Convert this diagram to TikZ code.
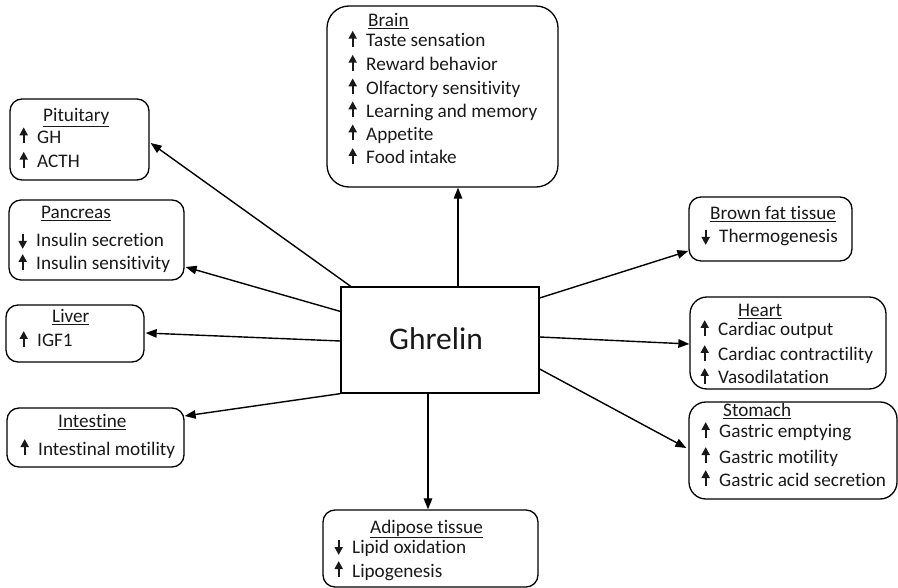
\documentclass[tikz,border=0pt]{standalone}
\usepackage{fontspec}
\setmainfont[Ligatures={NoCommon,NoContextual}]{Carlito}
\usetikzlibrary{arrows.meta,calc}
\newcommand\upar{\tikz[baseline=0pt,x=1pt,y=1pt]{\useasboundingbox (0,0) rectangle (7,14); \draw[line width=1.8pt] (3.5,0)--(3.5,9); \fill (-0.8,8)--(7.8,8)--(3.5,15.8)--cycle;}\hspace{10pt}}
\newcommand\dnar{\tikz[baseline=0pt,x=1pt,y=1pt]{\useasboundingbox (0,0) rectangle (7,14); \draw[line width=1.8pt] (3.5,13)--(3.5,5); \fill (-0.8,6)--(7.8,6)--(3.5,-1.8)--cycle;}\hspace{10pt}}
\tikzset{
  box/.style={draw, line width=1.3pt, rounded corners=12pt, inner sep=0pt},
  txt/.style={anchor=base west, inner sep=0pt, font=\fontsize{19.2}{23}\selectfont, text=black!90},
  hdr/.style={txt},
  arr/.style={line width=1.4pt, -{Triangle[length=11pt,width=8.5pt]}},
}
\begin{document}
\begin{tikzpicture}[x=1pt,y=-1pt]
\useasboundingbox (0,0) rectangle (898,588);
% central node
\node[draw, line width=1.3pt, minimum width=198pt, minimum height=106pt, inner sep=0pt] (gh) at (440,340) {};
\node[font=\fontsize{31.5}{36}\selectfont, text=black!90, inner sep=0pt] (ghT) at (436,339) {Ghrelin};
% organ boxes
\node[box, rounded corners=22pt, minimum width=231pt, minimum height=181pt] (brain) at (442.5,96.5) {};
\node[box, minimum width=139pt, minimum height=81pt] (pit) at (79.5,139.5) {};
\node[box, minimum width=175pt, minimum height=80pt] (pan) at (96.5,240) {};
\node[box, minimum width=138pt, minimum height=57pt] (liv) at (75,333.5) {};
\node[box, minimum width=177pt, minimum height=59pt] (int) at (95.5,437.5) {};
\node[box, minimum width=163pt, minimum height=64pt] (bro) at (770.5,229) {};
\node[box, rounded corners=17pt, minimum width=196pt, minimum height=92pt] (hea) at (788,343) {};
\node[box, rounded corners=17pt, minimum width=208pt, minimum height=97pt] (sto) at (793,450.5) {};
\node[box, minimum width=215pt, minimum height=77pt] (adi) at (430.5,548.5) {};
% Brain
\node[hdr] (brainH) at (368,26.7) {\underline{Brain}};
\node[txt] (brain1) at (349,46.7) {\upar Taste sensation};
\node[txt] (brain2) at (349,70.7) {\upar Reward behavior};
\node[txt] (brain3) at (349,94.3) {\upar Olfactory sensitivity};
\node[txt] (brain4) at (349,117.3) {\upar Learning and memory};
\node[txt] (brain5) at (349,140.3) {\upar Appetite};
\node[txt] (brain6) at (349,164) {\upar Food intake};
% Pituitary
\node[hdr] (pitH) at (43,121.7) {\underline{Pituitary}};
\node[txt] (pit1) at (20,143.3) {\upar GH};
\node[txt] (pit2) at (20,167.7) {\upar ACTH};
% Pancreas
\node[hdr] (panH) at (41,219) {\underline{Pancreas}};
\node[txt] (pan1) at (19,247) {\dnar Insulin secretion};
\node[txt] (pan2) at (19,270) {\upar Insulin sensitivity};
% Liver
\node[hdr] (livH) at (52,323) {\underline{Liver}};
\node[txt] (liv1) at (20,347) {\upar IGF1};
% Intestine
\node[hdr] (intH) at (58,428) {\underline{Intestine}};
\node[txt] (int1) at (21,455) {\upar Intestinal motility};
% Brown fat
\node[hdr] (broH) at (710,220) {\underline{Brown fat tissue}};
\node[txt] (bro1) at (702,243) {\dnar Thermogenesis};
% Heart
\node[hdr] (heaH) at (738,317) {\underline{Heart}};
\node[txt] (hea1) at (701,336) {\upar Cardiac output};
\node[txt] (hea2) at (701,361) {\upar Cardiac contractility};
\node[txt] (hea3) at (701,384) {\upar Vasodilatation};
% Stomach
\node[hdr] (stoH) at (723,417) {\underline{Stomach}};
\node[txt] (sto1) at (702,438) {\upar Gastric emptying};
\node[txt] (sto2) at (702,463) {\upar Gastric motility};
\node[txt] (sto3) at (702,486) {\upar Gastric acid secretion};
% Adipose
\node[hdr] (adiH) at (370,533) {\underline{Adipose tissue}};
\node[txt] (adi1) at (335,553) {\dnar Lipid oxidation};
\node[txt] (adi2) at (335,577) {\upar Lipogenesis};
% connectors
\draw[arr] ($(gh.north)+(18,0)$) -- ($(brain.south)+(15.5,0)$);
\draw[arr] (gh.149) -- ($(pit.east)+(1,3.5)$);
\draw[arr] (gh.164.8) -- ($(pan.east)+(1,27)$);
\draw[arr] ($(gh.west)+(0,1)$) -- ($(liv.east)+(1,-0.5)$);
\draw[arr] (gh.south west) -- ($(int.east)+(0,-21.5)$);
\draw[arr] ($(gh.south)+(-12,0)$) -- ($(adi.north)+(-2.5,0)$);
\draw[arr] ($(gh.east)+(0,-42)$) -- ($(bro.west)+(0,22)$);
\draw[arr] ($(gh.east)+(0,-3)$) -- ($(hea.west)+(0,1)$);
\draw[arr] ($(gh.east)+(0,29)$) -- ($(sto.west)+(-2,-2.5)$);
\end{tikzpicture}
\end{document}
